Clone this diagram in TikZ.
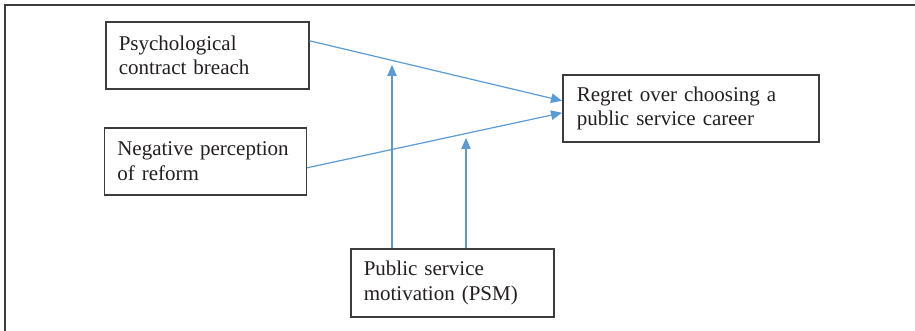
\documentclass[tikz,border=0pt]{standalone}
\usepackage{fontspec}
\setmainfont{Liberation Serif}
\usetikzlibrary{arrows.meta,calc}
\definecolor{arrowblue}{RGB}{91,155,213}
\definecolor{boxgray}{RGB}{60,60,60}
\definecolor{txtgray}{RGB}{35,31,32}
\begin{document}
\begin{tikzpicture}[x=1pt,y=-1pt,
  box/.style={draw=boxgray,line width=1.6pt,align=left,inner xsep=13pt,inner ysep=0pt,
    font=\fontsize{21}{24.5}\selectfont,text=txtgray,anchor=north west},
  link/.style={draw=arrowblue,line width=1.2pt,-{Triangle[length=11pt,width=9.5pt]}}]
\path[use as bounding box] (0,0) rectangle (915,331);
\clip (0,0) rectangle (915,331);
\draw[boxgray,line width=1.8pt] (5,345) -- (5,5) -- (930,5);
\node[box,text width=177pt,minimum height=67pt] (psy) at (105,21) {Psychological\\contract breach};
\node[box,text width=176pt,minimum height=67pt] (neg) at (103.5,127) {Negative perception\\of reform};
\node[box,text width=228pt,minimum height=67pt,inner xsep=14pt] (reg) at (562,74) {Regret over choosing a\\public service career};
\node[box,text width=177pt,minimum height=68pt] (psm) at (350,248) {Public service\\motivation (PSM)};
\coordinate (m1) at (392,65);
\coordinate (m2) at (466,138);
\draw[link] ($(psy.east)+(0,-14.5)$) -- ($(reg.west)+(0,-7.5)$);
\draw[link] ($(neg.east)+(0,6.5)$) -- ($(reg.west)+(0,4.5)$);
\draw[link] (psm.north -| m1) -- (m1);
\draw[link] (psm.north -| m2) -- (m2);
\end{tikzpicture}
\end{document}
